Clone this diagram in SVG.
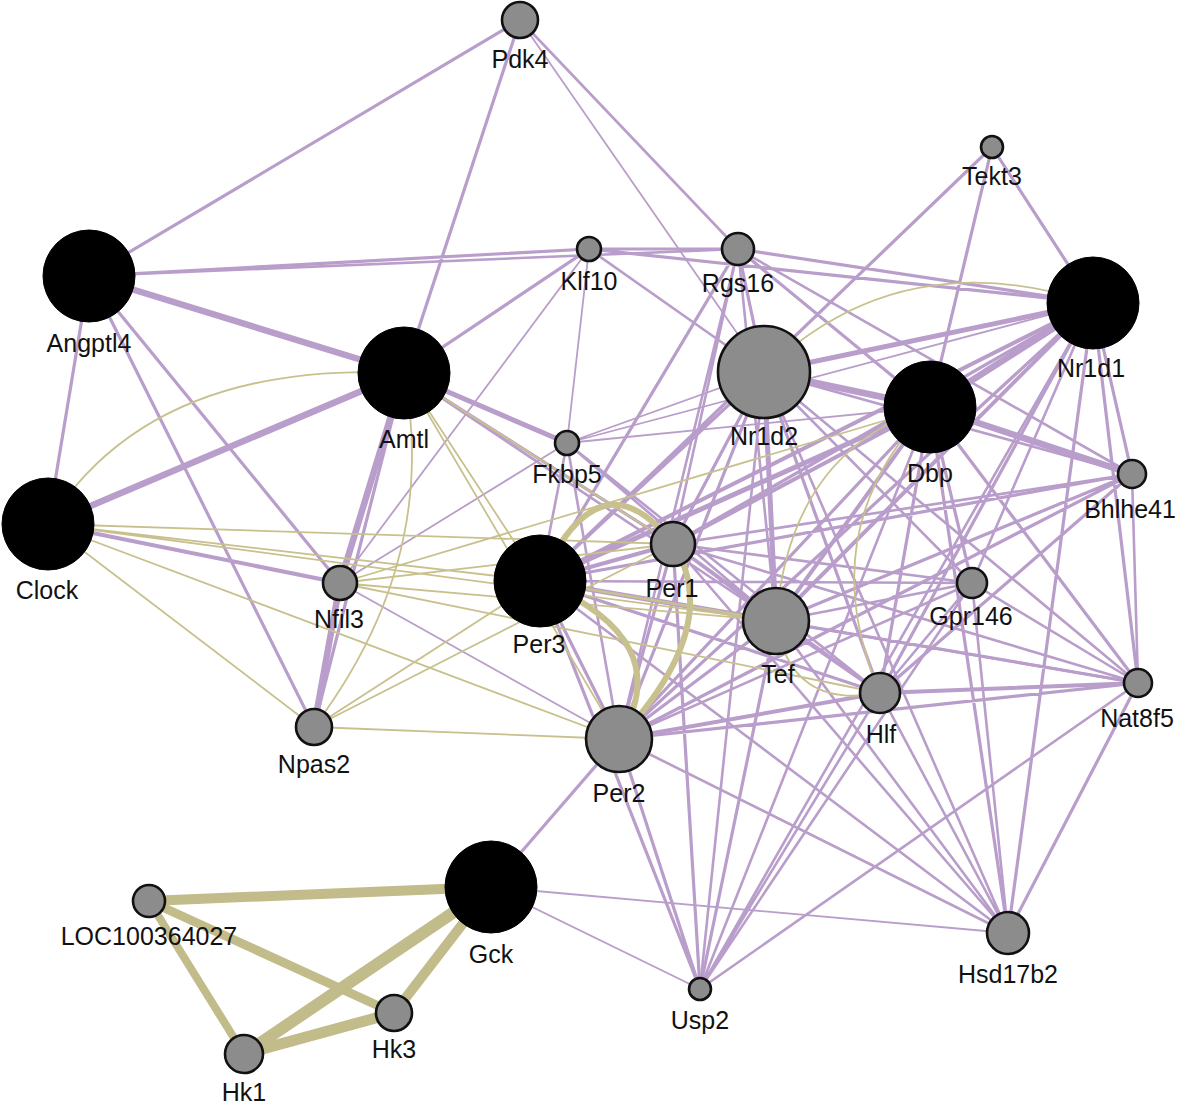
<svg xmlns="http://www.w3.org/2000/svg" width="1180" height="1106" viewBox="0 0 1180 1106">
<style>
.p{stroke:#b99dca;fill:none;stroke-linecap:round}
.o{stroke:#c8c18e;fill:none;stroke-linecap:round}
.a{stroke-width:1.8}.b{stroke-width:2.6}.c{stroke-width:3.2}.d{stroke-width:4}.e{stroke-width:5}.f{stroke-width:6.5}
.hk{stroke:#c2bb8a;fill:none;stroke-linecap:round}
.g{fill:#8c8c8c;stroke:#111;stroke-width:2.6}
.k{fill:#000;stroke:#000;stroke-width:1}
text{font-family:"Liberation Sans",Arial,sans-serif;font-size:25px;fill:#111;text-anchor:middle}
</style>
<rect width="1180" height="1106" fill="#fff"/>
<g id="edges">
<!-- co-expression (purple) -->
<path class="p a" d="M520,20 L764,372 M340,583 L567,443 M340,583 L619,739 M764,372 L567,443 M567,443 L1093,303 M567,443 L930,407 M1008,933 L491,887 M700,989 L491,887 M340,583 L589,249 M589,249 L567,443"/>
<path class="p b" d="M520,20 L738,249 M89,276 L738,249 M404,373 L776,621 M738,249 L1132,474 M738,249 L673,544 M738,249 L776,621 M738,249 L619,739 M589,249 L764,372 M764,372 L1132,474 M764,372 L972,583 M764,372 L1138,683 M764,372 L1008,933 M764,372 L700,989 M567,443 L619,739 M567,443 L776,621 M567,443 L880,693 M567,443 L540,581 M930,407 L700,989 M1093,303 L972,583 M1093,303 L700,989 M1132,474 L1138,683 M1132,474 L673,544 M972,583 L673,544 M972,583 L776,621 M972,583 L880,693 M972,583 L1138,683 M972,583 L1008,933 M972,583 L619,739 M972,583 L700,989 M972,583 L540,581 M1138,683 L700,989 M1138,683 L540,581 M1138,683 L673,544 M880,693 L1008,933 M880,693 L700,989 M1008,933 L619,739 M1008,933 L776,621 M1008,933 L673,544 M1008,933 L540,581"/>
<path class="p c" d="M520,20 L89,276 M520,20 L404,373 M89,276 L589,249 M89,276 L48,524 M89,276 L340,583 M89,276 L314,727 M404,373 L314,727 M404,373 L589,249 M404,373 L673,544 M589,249 L738,249 M589,249 L1093,303 M738,249 L1093,303 M738,249 L764,372 M738,249 L930,407 M738,249 L540,581 M992,147 L1093,303 M992,147 L930,407 M992,147 L540,581 M764,372 L540,581 M764,372 L673,544 M764,372 L619,739 M764,372 L880,693 M930,407 L619,739 M930,407 L880,693 M930,407 L972,583 M930,407 L1138,683 M930,407 L1008,933 M1093,303 L1132,474 M1093,303 L1138,683 M1093,303 L1008,933 M1093,303 L880,693 M1093,303 L673,544 M1093,303 L619,739 M1132,474 L540,581 M1132,474 L776,621 M1132,474 L619,739 M1132,474 L880,693 M1138,683 L619,739 M1138,683 L776,621 M1138,683 L1008,933 M880,693 L673,544 M880,693 L540,581 M880,693 L776,621 M700,989 L619,739 M700,989 L540,581 M700,989 L673,544 M700,989 L776,621 M540,581 L619,739 M673,544 L776,621 M673,544 L619,739 M776,621 L619,739 M619,739 L491,887"/>
<path class="p d" d="M48,524 L340,583 M930,407 L673,544 M930,407 L776,621 M1093,303 L776,621 M1093,303 L540,581 M1138,683 L880,693 M880,693 L619,739 M540,581 L673,544"/>
<path class="p e" d="M404,373 L567,443 M764,372 L1093,303 M764,372 L776,621 M930,407 L540,581 M540,581 L776,621"/>
<path class="p f" d="M89,276 L404,373 M48,524 L404,373 M404,373 L340,583 M340,583 L314,727 M764,372 L930,407 M930,407 L1093,303 M930,407 L1132,474"/>
<!-- shared protein domains (olive) -->
<path class="o a" d="M48,524 Q150,360 404,373 M48,524 L314,727 M48,524 L673,544 M48,524 L540,581 M48,524 L776,621 M48,524 L619,739 M404,373 Q440,560 314,727 M404,373 L673,544 M404,373 L619,739 M404,373 L540,581 M314,727 L540,581 M314,727 L673,544 M314,727 L619,739 M340,583 L673,544 M340,583 L776,621 M340,583 L880,693 M340,583 L930,407 M930,407 Q810,530 880,693 M776,621 Q790,450 930,407 M776,621 Q790,710 880,693 M764,372 Q900,240 1093,303"/>
<path class="o b" d="M540,581 L776,621"/>
<path class="o" style="stroke-width:6" d="M540,581 Q600,450 673,544 M540,581 Q680,640 619,739 M673,544 Q725,625 619,739"/>
<path class="hk" style="stroke-width:10" d="M149,901 L491,887"/>
<path class="hk" style="stroke-width:9" d="M149,901 L394,1013"/>
<path class="hk" style="stroke-width:8" d="M149,901 L244,1054"/>
<path class="hk" style="stroke-width:12" d="M244,1054 L491,887"/>
<path class="hk" style="stroke-width:11" d="M244,1054 L394,1013"/>
<path class="hk" style="stroke-width:10" d="M394,1013 L491,887"/>
</g>
<g id="node-Pdk4"><circle class="g" cx="520" cy="20" r="18"/><text x="520" y="68">Pdk4</text></g>
<g id="node-Tekt3"><circle class="g" cx="992" cy="147" r="11"/><text x="992" y="185">Tekt3</text></g>
<g id="node-Angptl4"><circle class="k" cx="89" cy="276" r="46"/><text x="89" y="352">Angptl4</text></g>
<g id="node-Klf10"><circle class="g" cx="589" cy="249" r="12"/><text x="589" y="290">Klf10</text></g>
<g id="node-Rgs16"><circle class="g" cx="738" cy="249" r="16"/><text x="738" y="292">Rgs16</text></g>
<g id="node-Nr1d1"><circle class="k" cx="1093" cy="303" r="46"/><text x="1091" y="377">Nr1d1</text></g>
<g id="node-Nr1d2"><circle class="g" cx="764" cy="372" r="46"/><text x="764" y="445">Nr1d2</text></g>
<g id="node-Amtl"><circle class="k" cx="404" cy="373" r="46"/><text x="404" y="448">Amtl</text></g>
<g id="node-Dbp"><circle class="k" cx="930" cy="407" r="46"/><text x="930" y="482">Dbp</text></g>
<g id="node-Fkbp5"><circle class="g" cx="567" cy="443" r="12"/><text x="567" y="483">Fkbp5</text></g>
<g id="node-Bhlhe41"><circle class="g" cx="1132" cy="474" r="14"/><text x="1130" y="518">Bhlhe41</text></g>
<g id="node-Clock"><circle class="k" cx="48" cy="524" r="46"/><text x="47" y="599">Clock</text></g>
<g id="node-Per1"><circle class="g" cx="673" cy="544" r="22"/><text x="672" y="597">Per1</text></g>
<g id="node-Per3"><circle class="k" cx="540" cy="581" r="46"/><text x="539" y="653">Per3</text></g>
<g id="node-Nfil3"><circle class="g" cx="340" cy="583" r="17"/><text x="339" y="628">Nfil3</text></g>
<g id="node-Gpr146"><circle class="g" cx="972" cy="583" r="15"/><text x="971" y="625">Gpr146</text></g>
<g id="node-Tef"><circle class="g" cx="776" cy="621" r="33"/><text x="778" y="683">Tef</text></g>
<g id="node-Hlf"><circle class="g" cx="880" cy="693" r="20"/><text x="881" y="743">Hlf</text></g>
<g id="node-Nat8f5"><circle class="g" cx="1138" cy="683" r="14"/><text x="1137" y="727">Nat8f5</text></g>
<g id="node-Npas2"><circle class="g" cx="314" cy="727" r="18"/><text x="314" y="773">Npas2</text></g>
<g id="node-Per2"><circle class="g" cx="619" cy="739" r="33"/><text x="619" y="802">Per2</text></g>
<g id="node-Gck"><circle class="k" cx="491" cy="887" r="46"/><text x="491" y="963">Gck</text></g>
<g id="node-LOC100364027"><circle class="g" cx="149" cy="901" r="16"/><text x="149" y="945">LOC100364027</text></g>
<g id="node-Hsd17b2"><circle class="g" cx="1008" cy="933" r="21"/><text x="1008" y="983">Hsd17b2</text></g>
<g id="node-Usp2"><circle class="g" cx="700" cy="989" r="11"/><text x="700" y="1029">Usp2</text></g>
<g id="node-Hk3"><circle class="g" cx="394" cy="1013" r="18"/><text x="394" y="1058">Hk3</text></g>
<g id="node-Hk1"><circle class="g" cx="244" cy="1054" r="19"/><text x="244" y="1101">Hk1</text></g>
</svg>
